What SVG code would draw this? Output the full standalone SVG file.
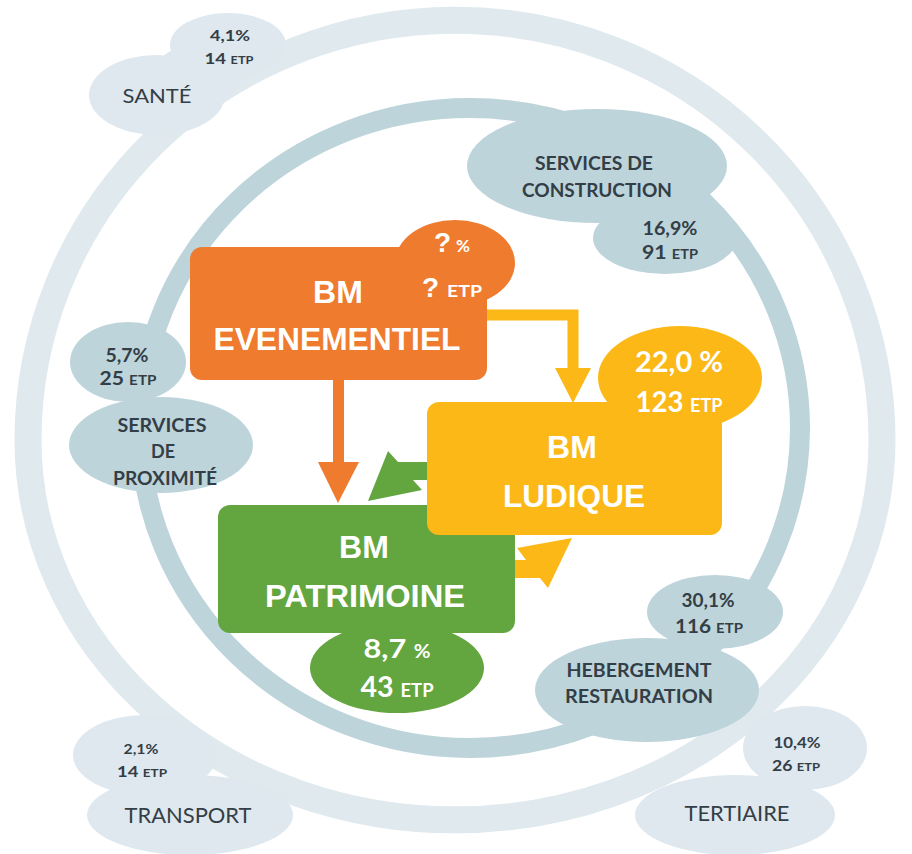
<svg xmlns="http://www.w3.org/2000/svg" width="912" height="854" viewBox="0 0 912 854">
  <style>
    .ring-outer { fill: none; stroke: #dfe9ee; stroke-width: 27; }
    .ring-inner { fill: none; stroke: #bdd4db; stroke-width: 20; }
    .pale { fill: #dfe8ee; }
    .sky { fill: #bdd4db; }
    .orange { fill: #ee7b2e; }
    .yellow { fill: #fbb817; }
    .green { fill: #63a640; }
    .lbl { font-family: Lato, "Open Sans", "Liberation Sans", sans-serif; font-weight: 700; fill: #333e46; text-anchor: middle; }
    .reg { font-weight: 400; }
    .box { font-family: "Liberation Sans", Arial, sans-serif; font-weight: 700; fill: #ffffff; text-anchor: middle; }
    .fig { font-family: Lato, "Open Sans", "Liberation Sans", sans-serif; font-weight: 700; fill: #ffffff; text-anchor: middle; }
    .start { text-anchor: start; }
  </style>

  <rect width="912" height="854" fill="#ffffff"/>

  <!-- rings -->
  <g id="rings">
    <path class="ring-outer" d="M28 440 A427 420 0 0 1 882 440 A427 380 0 0 1 28 440 Z"/>
    <ellipse class="ring-inner" cx="470" cy="428" rx="330" ry="320"/>
  </g>

  <!-- outer sectors -->
  <g id="sante">
    <ellipse class="pale" cx="228" cy="45" rx="58" ry="32"/>
    <ellipse class="pale" cx="157" cy="95" rx="68" ry="40"/>
    <ellipse class="pale" cx="200" cy="72" rx="45" ry="28"/>
    <text class="lbl" x="230" y="41" font-size="16" textLength="40" lengthAdjust="spacingAndGlyphs">4,1%</text>
    <text class="lbl" x="229" y="64" font-size="16" textLength="49" lengthAdjust="spacingAndGlyphs">14 <tspan font-size="11">ETP</tspan></text>
    <text class="lbl reg" x="157" y="103" font-size="20" textLength="69" lengthAdjust="spacingAndGlyphs">SANTÉ</text>
  </g>

  <g id="transport">
    <ellipse class="pale" cx="145" cy="755" rx="72" ry="40"/>
    <ellipse class="pale" cx="190" cy="815" rx="103" ry="40"/>
    <text class="lbl" x="141" y="754" font-size="14" textLength="35" lengthAdjust="spacingAndGlyphs">2,1%</text>
    <text class="lbl" x="142" y="777" font-size="15" textLength="50" lengthAdjust="spacingAndGlyphs">14 <tspan font-size="11">ETP</tspan></text>
    <text class="lbl reg" x="188" y="823" font-size="21" textLength="127" lengthAdjust="spacingAndGlyphs">TRANSPORT</text>
  </g>

  <g id="tertiaire">
    <ellipse class="pale" cx="805" cy="748" rx="62" ry="42"/>
    <ellipse class="pale" cx="735" cy="815" rx="100" ry="40"/>
    <text class="lbl" x="797" y="748" font-size="15" textLength="47" lengthAdjust="spacingAndGlyphs">10,4%</text>
    <text class="lbl" x="796" y="771" font-size="15" textLength="48" lengthAdjust="spacingAndGlyphs">26 <tspan font-size="11">ETP</tspan></text>
    <text class="lbl reg" x="737" y="821" font-size="21" textLength="105" lengthAdjust="spacingAndGlyphs">TERTIAIRE</text>
  </g>

  <!-- inner sectors -->
  <g id="services-construction">
    <ellipse class="sky" cx="597" cy="166" rx="130" ry="57"/>
    <ellipse class="sky" cx="665" cy="238" rx="72" ry="36"/>
    <text class="lbl" x="594" y="170" font-size="18" textLength="118" lengthAdjust="spacingAndGlyphs">SERVICES DE</text>
    <text class="lbl" x="597" y="197" font-size="18" textLength="150" lengthAdjust="spacingAndGlyphs">CONSTRUCTION</text>
    <text class="lbl" x="670" y="235" font-size="19" textLength="55" lengthAdjust="spacingAndGlyphs">16,9%</text>
    <text class="lbl" x="670" y="259" font-size="19" textLength="56" lengthAdjust="spacingAndGlyphs">91 <tspan font-size="13">ETP</tspan></text>
  </g>

  <g id="services-proximite">
    <ellipse class="sky" cx="128" cy="362" rx="58" ry="40"/>
    <ellipse class="sky" cx="161" cy="445" rx="92" ry="48"/>
    <text class="lbl" x="127" y="362" font-size="18" textLength="43" lengthAdjust="spacingAndGlyphs">5,7%</text>
    <text class="lbl" x="128" y="385" font-size="18" textLength="57" lengthAdjust="spacingAndGlyphs">25 <tspan font-size="13">ETP</tspan></text>
    <text class="lbl" x="162" y="432" font-size="18" textLength="89" lengthAdjust="spacingAndGlyphs">SERVICES</text>
    <text class="lbl" x="163" y="458" font-size="18">DE</text>
    <text class="lbl" x="165" y="485" font-size="18" textLength="104" lengthAdjust="spacingAndGlyphs">PROXIMITÉ</text>
  </g>

  <g id="hebergement-restauration">
    <ellipse class="sky" cx="715" cy="612" rx="68" ry="37"/>
    <ellipse class="sky" cx="647" cy="690" rx="112" ry="52"/>
    <text class="lbl" x="708" y="607" font-size="18" textLength="53" lengthAdjust="spacingAndGlyphs">30,1%</text>
    <text class="lbl" x="709" y="633" font-size="18" textLength="68" lengthAdjust="spacingAndGlyphs">116 <tspan font-size="13">ETP</tspan></text>
    <text class="lbl" x="639" y="677" font-size="18" textLength="145" lengthAdjust="spacingAndGlyphs">HEBERGEMENT</text>
    <text class="lbl" x="639" y="703" font-size="18" textLength="148" lengthAdjust="spacingAndGlyphs">RESTAURATION</text>
  </g>

  <!-- flows between the three business models -->
  <g id="connectors">
    <!-- evenementiel to ludique -->
    <path d="M487 315 H573 V372" fill="none" stroke="#fbb817" stroke-width="11"/>
    <polygon class="yellow" points="555,368 591,368 573,403"/>
    <!-- evenementiel to patrimoine -->
    <rect class="orange" x="333" y="378" width="11" height="86"/>
    <polygon class="orange" points="318,462 359,462 338,503"/>
    <!-- ludique to patrimoine -->
    <polygon class="green" points="432,462 398,462 388,451 368,501 422,490 413,480 432,480"/>
    <!-- patrimoine to ludique -->
    <polygon class="yellow" points="510,560 526,560 517,548 572,538 548,588 540,578 510,578"/>
  </g>

  <!-- business models -->
  <g id="bm-evenementiel">
    <ellipse class="orange" cx="455" cy="263" rx="60" ry="43"/>
    <rect class="orange" x="190" y="247" width="297" height="133" rx="12"/>
    <text class="box start" x="434" y="252" font-size="28">?</text>
    <text class="fig start" x="456" y="252" font-size="17">%</text>
    <text class="box start" x="422" y="297" font-size="28">?</text>
    <text class="fig start" x="447" y="297" font-size="17" textLength="35" lengthAdjust="spacingAndGlyphs">ETP</text>
    <text class="box" x="338" y="303" font-size="32">BM</text>
    <text class="box" x="337" y="350" font-size="32" textLength="247" lengthAdjust="spacingAndGlyphs">EVENEMENTIEL</text>
  </g>

  <g id="bm-patrimoine">
    <ellipse class="green" cx="397" cy="668" rx="87" ry="45"/>
    <rect class="green" x="218" y="505" width="297" height="128" rx="12"/>
    <text class="box" x="364" y="558" font-size="32">BM</text>
    <text class="box" x="365" y="607" font-size="32" textLength="200" lengthAdjust="spacingAndGlyphs">PATRIMOINE</text>
    <text class="fig" x="397" y="658" font-size="27" textLength="67" lengthAdjust="spacingAndGlyphs">8,7 <tspan font-size="18">%</tspan></text>
    <text class="fig" x="397" y="697" font-size="28" textLength="73" lengthAdjust="spacingAndGlyphs">43 <tspan font-size="18">ETP</tspan></text>
  </g>

  <g id="bm-ludique">
    <ellipse class="yellow" cx="680" cy="378" rx="82" ry="52"/>
    <rect class="yellow" x="427" y="402" width="295" height="133" rx="12"/>
    <text class="fig" x="679" y="372" font-size="28" textLength="88" lengthAdjust="spacingAndGlyphs">22,0 %</text>
    <text class="fig" x="679" y="412" font-size="29" textLength="87" lengthAdjust="spacingAndGlyphs">123 <tspan font-size="19">ETP</tspan></text>
    <text class="box" x="572" y="458" font-size="32">BM</text>
    <text class="box" x="574" y="507" font-size="32" textLength="142" lengthAdjust="spacingAndGlyphs">LUDIQUE</text>
  </g>
</svg>
